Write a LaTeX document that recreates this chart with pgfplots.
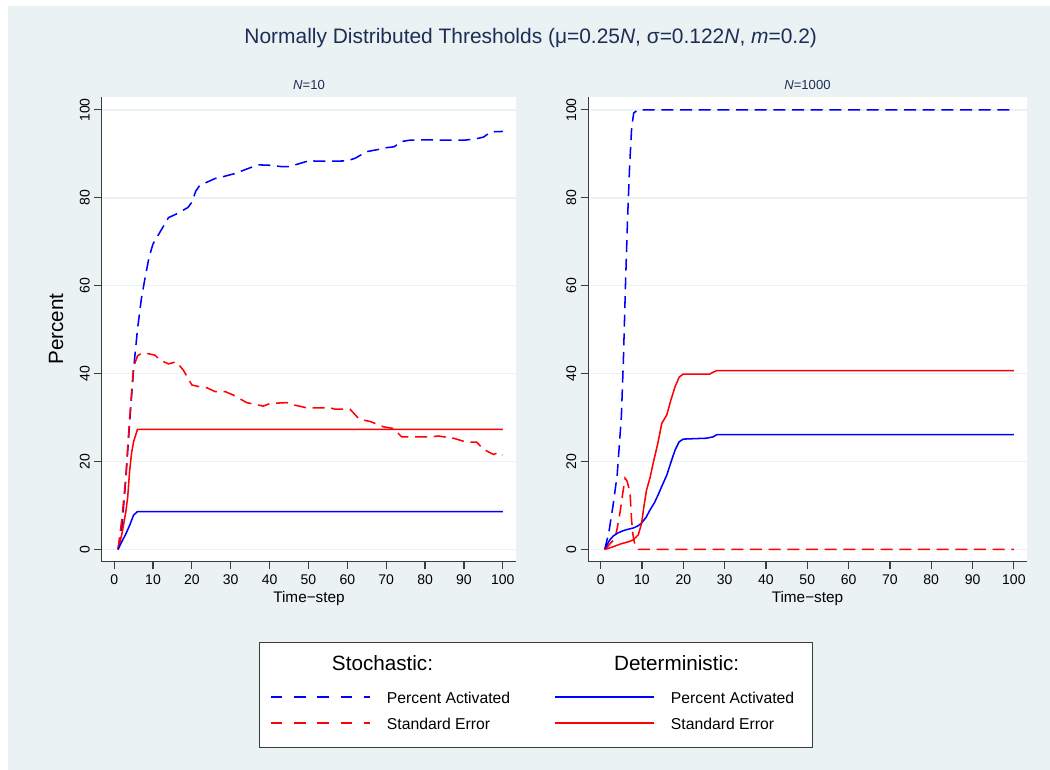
\documentclass[border=0pt]{standalone}
\usepackage{pgfplots}
\pgfplotsset{compat=1.18}
\usepackage{fontspec}
\setmainfont{Liberation Sans}
\definecolor{bgc}{RGB}{234,242,243}
\definecolor{navy}{RGB}{30,45,85}
\definecolor{axc}{RGB}{60,60,60}
\definecolor{cBlue}{rgb}{0,0,1}
\definecolor{cRed}{rgb}{1,0,0.02}
\pgfplotsset{
  panel/.style={
    scale only axis, height=348.75pt, ymin=-2.8, ymax=103,
    axis x line*=bottom, axis y line*=left,
    axis line style={axc, line width=1pt},
    axis background/.style={fill=white},
    xtick={0,10,...,100}, ytick={0,20,...,100},
    tick align=outside, major tick length=5.5pt,
    tick style={axc, line width=0.9pt},
    ymajorgrids, grid style={bgc, line width=1.1pt},
    tick label style={font=\fontsize{10.5}{12}\selectfont, black},
    yticklabel style={rotate=90, anchor=south},
    xticklabel style={yshift=-1pt},
    /pgf/number format/assume math mode=true,
    every axis plot/.append style={line width=1.15pt},
  },
  stoch/.style={dash pattern=on 9pt off 5pt},
}
\begin{document}
\begin{tikzpicture}
\fill[white] (0,0) rectangle (787.5pt,-577.5pt);
\fill[bgc] (6pt,-4.5pt) rectangle (787.5pt,-577.5pt);
\node[navy, font=\fontsize{15.7}{18}\selectfont] at (398pt,-28.5pt) {Normally Distributed Thresholds (μ=0.25\textit{N}, σ=0.122\textit{N}, \textit{m}=0.2)};
\node[navy, font=\fontsize{9.8}{11}\selectfont] at (231.75pt,-63.75pt) {\textit{N}=10};
\node[navy, font=\fontsize{9.8}{11}\selectfont] at (605.6pt,-63.75pt) {\textit{N}=1000};
\node[black, rotate=90, font=\fontsize{15.5}{18}\selectfont] at (42pt,-246.75pt) {Percent};
\node[black, font=\fontsize{11.5}{13}\selectfont] at (231.75pt,-449.25pt) {Time−step};
\node[black, font=\fontsize{11.5}{13}\selectfont] at (605.6pt,-449.25pt) {Time−step};

\begin{axis}[panel, at={(76.28pt,-421.28pt)}, anchor=south west, width=310.7pt, xmin=-3.2, xmax=103.4]
\addplot[color=cBlue, stoch] coordinates {(1,0) (2,5) (3,16) (4,29) (5,41) (6,50) (7,57) (8,62) (9,66.5) (10,69.5) (11,71) (12,72.5) (13,74) (14,75.5) (16,76.3) (18,77.3) (19,77.8) (20,79) (21,81.5) (22,82.8) (24,83.6) (26,84.4) (28,84.8) (31,85.5) (34,86.5) (37,87.5) (40,87.4) (43,87.1) (45,87.1) (47,87.6) (50,88.4) (55,88.3) (60,88.4) (62,89) (65,90.5) (68,91) (70,91.4) (72,91.6) (74,92.8) (76,93.1) (80,93.2) (85,93.1) (90,93.1) (93,93.4) (95,93.8) (97,95) (100,95.1)};
\addplot[color=cRed, stoch] coordinates {(1,0) (2,7) (3,16.5) (4,30) (5,41.5) (6,44) (7,44.6) (8.4,44.6) (10.5,44.2) (11.8,43.1) (14,42.2) (16,42.7) (17.8,40.8) (20,37.4) (22,37) (23.8,36.8) (26,35.9) (28.6,35.9) (30.7,35.1) (34.1,33.4) (38.4,32.6) (40.1,33.2) (44.4,33.4) (46.1,32.9) (49.6,32.2) (55.6,32.2) (56.9,31.9) (60.7,31.9) (63.1,29.6) (65.9,29.1) (69.3,27.9) (71.9,27.5) (74,25.6) (81.3,25.6) (83.4,25.8) (87.3,25.3) (90.7,24.4) (93.3,24.4) (95,22.8) (97.6,21.6) (98.9,22) (100,21.5)};
\addplot[color=cRed] coordinates {(1,0) (2,3.5) (3,8.5) (3.5,12) (4,18) (4.5,22) (5,24.5) (6,27.3) (100,27.3)};
\addplot[color=cBlue] coordinates {(1,0) (2,1.8) (3,3.5) (4,5.5) (5,7.8) (6,8.6) (100,8.6)};
\end{axis}

\begin{axis}[panel, at={(441.2pt,-421.28pt)}, anchor=south west, width=328.8pt, xmin=-3.0, xmax=103.1]
\addplot[color=cBlue, stoch] coordinates {(1,0) (2,4) (3,10) (4,17) (5,30) (5.5,43) (6,60) (6.5,75) (7,87) (7.5,96) (8,99.3) (9,100) (100,100)};
\addplot[color=cRed, stoch] coordinates {(1,0) (2,1) (3,2) (3.5,2.6) (4,4.8) (4.7,8.5) (5.3,12.5) (5.9,16.2) (6.4,15.5) (7.1,13) (7.5,6.5) (7.8,3.5) (8.1,1.8) (8.6,0.5) (9.1,0) (100,0)};
\addplot[color=cBlue] coordinates {(1,0) (1.5,1.0) (2.25,2.2) (3,3) (3.9,3.6) (5,4.1) (6.3,4.5) (8,4.9) (9.1,5.4) (9.9,6.0) (11,7.3) (11.9,8.9) (13,10.6) (13.9,12.4) (15,14.8) (16,16.9) (17,19.8) (18,22.6) (19,24.5) (20,25.1) (25.6,25.3) (27.2,25.6) (28.1,26.1) (100,26.1)};
\addplot[color=cRed] coordinates {(1,0) (3,0.6) (5,1.3) (7,1.8) (7.9,2.2) (9.1,3.3) (9.9,5.9) (10.5,10) (11.1,13.5) (12,16.5) (12.7,19.6) (13.8,24) (14.8,28.7) (16,30.6) (17,34) (18,37) (19,39.2) (20,39.9) (26.4,39.9) (27.2,40.3) (28.1,40.7) (100,40.7)};
\end{axis}

% legend
\draw[draw=axc, line width=0.9pt, fill=white] (194.5pt,-481.7pt) rectangle (609.5pt,-560.8pt);
\node[text=black, font=\fontsize{15.5}{18}\selectfont] at (286.9pt,-497.3pt) {Stochastic:};
\node[text=black, font=\fontsize{15.5}{18}\selectfont] at (507.5pt,-497.3pt) {Deterministic:};
\draw[draw=cBlue, line width=1.3pt, dash pattern=on 8.75pt off 8.75pt] (203pt,-522.75pt) -- (277.5pt,-522.75pt);
\draw[draw=cRed, line width=1.3pt, dash pattern=on 8.75pt off 8.75pt] (203pt,-542.5pt) -- (277.5pt,-542.5pt);
\draw[draw=cBlue, line width=1.3pt] (416.25pt,-522.75pt) -- (490.7pt,-522.75pt);
\draw[draw=cRed, line width=1.3pt] (416.25pt,-542.5pt) -- (490.7pt,-542.5pt);
\node[text=black, anchor=base west, inner sep=0pt, font=\fontsize{11.8}{13}\selectfont] at (290pt,-527.5pt) {Percent Activated};
\node[text=black, anchor=base west, inner sep=0pt, font=\fontsize{11.8}{13}\selectfont] at (290pt,-547.1pt) {Standard Error};
\node[text=black, anchor=base west, inner sep=0pt, font=\fontsize{11.8}{13}\selectfont] at (503pt,-527.5pt) {Percent Activated};
\node[text=black, anchor=base west, inner sep=0pt, font=\fontsize{11.8}{13}\selectfont] at (503pt,-547.1pt) {Standard Error};
\end{tikzpicture}
\end{document}
